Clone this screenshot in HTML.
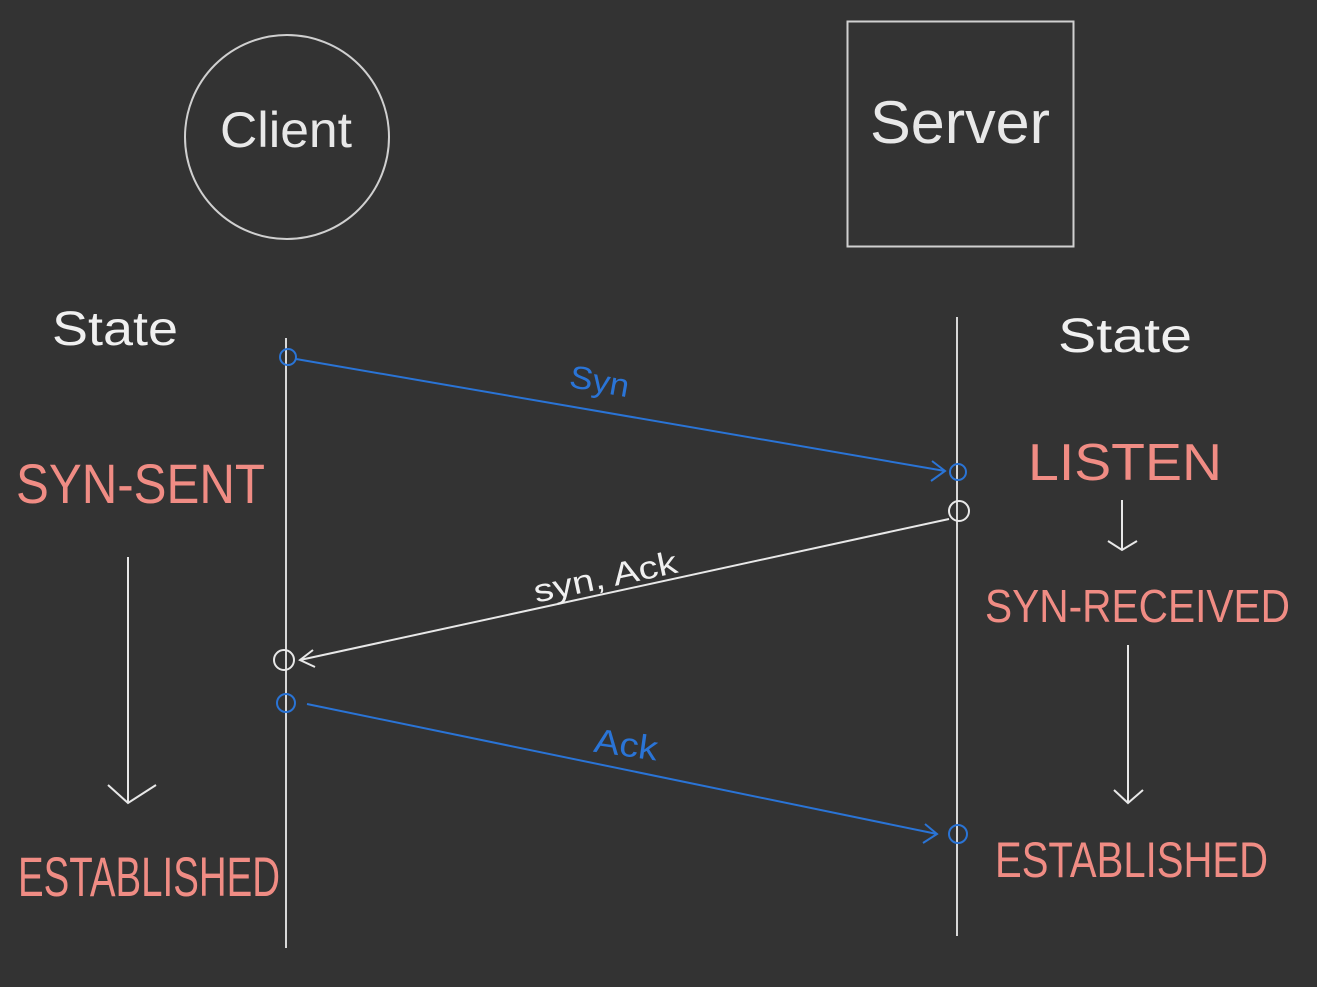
<!DOCTYPE html>
<html><head><meta charset="utf-8"><style>
html,body{margin:0;padding:0;background:#333333;}
svg{display:block}
text{font-family:"Liberation Sans",sans-serif;}
</style></head><body>
<svg width="1317" height="987" viewBox="0 0 1317 987" xmlns="http://www.w3.org/2000/svg">
<rect width="1317" height="987" fill="#333333"/>
<!-- Client / Server -->
<circle cx="287" cy="137" r="102" fill="none" stroke="#d0d0d0" stroke-width="2"/>
<text x="220" y="147" fill="#e8e8e8" font-size="50" textLength="132" lengthAdjust="spacingAndGlyphs">Client</text>
<rect x="847.5" y="21.5" width="226" height="225" fill="none" stroke="#d0d0d0" stroke-width="2"/>
<text x="870" y="143" fill="#e8e8e8" font-size="60" textLength="180" lengthAdjust="spacingAndGlyphs">Server</text>
<!-- State labels -->
<text x="52" y="345" fill="#f0f0f0" font-size="48" textLength="126" lengthAdjust="spacingAndGlyphs">State</text>
<text x="1058" y="352" fill="#f0f0f0" font-size="48" textLength="134" lengthAdjust="spacingAndGlyphs">State</text>
<!-- lifelines -->
<line x1="286" y1="338" x2="286" y2="948" stroke="#d8d8d8" stroke-width="2"/>
<line x1="957" y1="317" x2="957" y2="936" stroke="#d8d8d8" stroke-width="2"/>
<!-- Syn -->
<g stroke="#2a74d6" stroke-width="2" fill="none">
<circle cx="288" cy="357" r="8"/>
<line x1="296" y1="359" x2="945" y2="471"/>
<polyline points="932,461 945,471 931,481"/>
<circle cx="958" cy="472" r="8"/>
<circle cx="286" cy="703" r="9"/>
<line x1="307" y1="704" x2="937" y2="834"/>
<polyline points="925,824 937,834 923,843"/>
<circle cx="958" cy="834" r="9"/>
</g>
<text x="568" y="392" fill="#2a74d6" font-size="32" transform="rotate(10 598 390)" textLength="60" lengthAdjust="spacingAndGlyphs">Syn</text>
<text x="594" y="756" fill="#2a74d6" font-size="34" transform="rotate(8 625 745)" textLength="64" lengthAdjust="spacingAndGlyphs">Ack</text>
<!-- Syn, Ack -->
<g stroke="#e8e8e8" stroke-width="2" fill="none">
<circle cx="959" cy="511" r="10"/>
<line x1="949" y1="519" x2="300" y2="660"/>
<polyline points="313,650 300,660 315,667"/>
<circle cx="284" cy="660" r="10"/>
</g>
<text x="530" y="588" fill="#f0f0f0" font-size="32" transform="rotate(-12 603 566)" textLength="146" lengthAdjust="spacingAndGlyphs">syn, Ack</text>
<!-- red states -->
<g fill="#f08c84">
<text x="16" y="503" font-size="56" textLength="249" lengthAdjust="spacingAndGlyphs">SYN-SENT</text>
<text x="18" y="896" font-size="56" textLength="262" lengthAdjust="spacingAndGlyphs">ESTABLISHED</text>
<text x="1028" y="480" font-size="52" textLength="194" lengthAdjust="spacingAndGlyphs">LISTEN</text>
<text x="985" y="622" font-size="46" textLength="305" lengthAdjust="spacingAndGlyphs">SYN-RECEIVED</text>
<text x="995" y="877" font-size="50" textLength="273" lengthAdjust="spacingAndGlyphs">ESTABLISHED</text>
</g>
<!-- down arrows -->
<g stroke="#e8e8e8" stroke-width="2" fill="none">
<line x1="128" y1="557" x2="128" y2="803"/>
<polyline points="108,785 128,803 156,785"/>
<line x1="1122" y1="500" x2="1122" y2="550"/>
<polyline points="1108,541 1122,550 1137,541"/>
<line x1="1128" y1="645" x2="1128" y2="803"/>
<polyline points="1114,790 1128,803 1143,790"/>
</g>
</svg>
</body></html>
